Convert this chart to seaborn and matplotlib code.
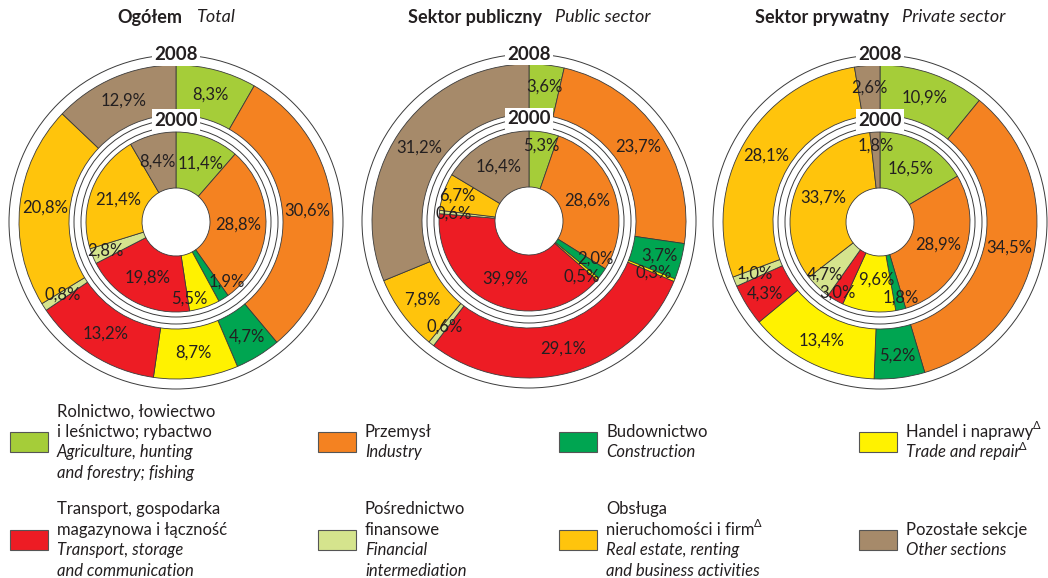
import matplotlib
matplotlib.use("Agg")
import numpy as np
import matplotlib.pyplot as plt
from matplotlib.patches import Circle, Rectangle
import seaborn as sns

# sections, clockwise from 12 o'clock
sections = ["agriculture", "industry", "construction", "trade",
            "transport", "financial", "real_estate", "other"]

total_2000 = [11.4, 28.8, 1.9, 5.5, 19.8, 2.8, 21.4, 8.4]
total_2008 = [8.3, 30.6, 4.7, 8.7, 13.2, 0.8, 20.8, 12.9]
public_2000 = [5.3, 28.6, 2.0, 0.5, 39.9, 0.6, 6.7, 16.4]
public_2008 = [3.6, 23.7, 3.7, 0.3, 29.1, 0.6, 7.8, 31.2]
private_2000 = [16.5, 28.9, 1.8, 9.6, 3.0, 4.7, 33.7, 1.8]
private_2008 = [10.9, 34.5, 5.2, 13.4, 4.3, 1.0, 28.1, 2.6]

titles_pl = ["Ogółem", "Sektor publiczny", "Sektor prywatny"]
titles_en = ["Total", "Public sector", "Private sector"]

# (text, has a delta superscript)
legend_pl = [[("Rolnictwo, łowiectwo", 0), ("i leśnictwo; rybactwo", 0)],
             [("Przemysł", 0)],
             [("Budownictwo", 0)],
             [("Handel i naprawy", 1)],
             [("Transport, gospodarka", 0), ("magazynowa i łączność", 0)],
             [("Pośrednictwo", 0), ("finansowe", 0)],
             [("Obsługa", 0), ("nieruchomości i firm", 1)],
             [("Pozostałe sekcje", 0)]]
legend_en = [[("Agriculture, hunting", 0), ("and forestry; fishing", 0)],
             [("Industry", 0)],
             [("Construction", 0)],
             [("Trade and repair", 1)],
             [("Transport, storage", 0), ("and communication", 0)],
             [("Financial", 0), ("intermediation", 0)],
             [("Real estate, renting", 0), ("and business activities", 0)],
             [("Other sections", 0)]]

colors = ["#A5CD39", "#F48221", "#00A551", "#FFF200",
          "#ED1C24", "#D5E48D", "#FFC40C", "#A68A6A"]

sns.set_theme(style="white")
plt.rcParams['font.family'] = ['Lato', 'DejaVu Sans']
TXT = "#231F20"
EDGE = "#3a3a3a"

W, H = 1048, 578
fig = plt.figure(figsize=(W / 100, H / 100), dpi=100)
fig.patch.set_facecolor("white")
renderer = fig.canvas.get_renderer()

# overlay axes in pixel coords for titles and legend
bg = fig.add_axes([0, 0, 1, 1])
bg.set_xlim(0, W)
bg.set_ylim(H, 0)
bg.axis("off")

centers = [(176, 222), (529, 221), (880, 222)]
data = [(total_2000, total_2008), (public_2000, public_2008),
        (private_2000, private_2008)]

S = 172
R_OUT, R08_IN = 157, 107
R_A, R_B = 102, 95
R00_OUT, R_HOLE = 90, 34
R_FRAME = 167


def fmt(v):
    return f"{v:.1f}%".replace(".", ",")


def ring(ax, values, r_out, r_in, r_small):
    wedges, _ = ax.pie(values, colors=colors, startangle=90, counterclock=False,
                       radius=r_out,
                       wedgeprops=dict(width=r_out - r_in, edgecolor=EDGE, linewidth=0.6))
    r_mid = (r_out + r_in) / 2
    texts, pos = [], []
    for w, v in zip(wedges, values):
        a = np.deg2rad((w.theta1 + w.theta2) / 2)
        # labels of thin slices sit further out, as in the original
        r = r_small if v < 7 else r_mid
        p = np.array([r * np.cos(a), r * np.sin(a)])
        texts.append(ax.text(p[0], p[1], fmt(v), ha="center", va="center",
                             fontsize=12, color=TXT))
        pos.append(p)
    # nudge apart labels whose boxes collide (axes units are pixels)
    size = [(t.get_window_extent(renderer).width + 1,
             t.get_window_extent(renderer).height + 1) for t in texts]
    for _ in range(400):
        moved = False
        for i in range(len(pos)):
            for j in range(i + 1, len(pos)):
                d = pos[i] - pos[j]
                if (abs(d[0]) < (size[i][0] + size[j][0]) / 2 and
                        abs(d[1]) < (size[i][1] + size[j][1]) / 2):
                    step = d / (np.linalg.norm(d) + 1e-9) * 0.5
                    pos[i] = pos[i] + step
                    pos[j] = pos[j] - step
                    moved = True
        if not moved:
            break
    for t, p in zip(texts, pos):
        t.set_position(p)


for (cx, cy), (v00, v08) in zip(centers, data):
    ax = fig.add_axes([(cx - S) / W, 1 - (cy + S) / H, 2 * S / W, 2 * S / H])
    ax.set_xlim(-S, S)
    ax.set_ylim(-S, S)
    ring(ax, v08, R_OUT, R08_IN, 135)
    ring(ax, v00, R00_OUT, R_HOLE, 76)
    for r in (R_FRAME, R_A, R_B):
        ax.add_patch(Circle((0, 0), r, fill=False, edgecolor=EDGE, linewidth=0.7))
    for r, year in ((R_FRAME, "2008"), (R_A, "2000")):
        ax.text(0, r, year, ha="center", va="center", fontsize=13.5,
                fontweight="bold", color=TXT,
                bbox=dict(facecolor="white", edgecolor="none", pad=1.5))
    ax.set_xlim(-S, S)
    ax.set_ylim(-S, S)
    ax.set_aspect("equal")
    ax.axis("off")

# titles: bold Polish + italic English, centred over each chart
for (cx, cy), pl, en in zip(centers, titles_pl, titles_en):
    t1 = bg.text(0, 17, pl, fontsize=13, fontweight="bold", color=TXT,
                 ha="left", va="center")
    t2 = bg.text(0, 17, en, fontsize=13, fontstyle="italic", color=TXT,
                 ha="left", va="center")
    w1 = t1.get_window_extent(renderer).width
    w2 = t2.get_window_extent(renderer).width
    gap = 13
    x0 = cx - (w1 + gap + w2) / 2
    t1.set_x(x0)
    t2.set_x(x0 + w1 + gap)

# legend: 2 rows x 4 columns
col_x = [10, 318, 559, 859]
row_y = [442, 540]
LINE = 20.5
for i, (pl, en) in enumerate(zip(legend_pl, legend_en)):
    x = col_x[i % 4]
    yc = row_y[i // 4]
    bg.add_patch(Rectangle((x, yc - 10), 38, 20, facecolor=colors[i],
                           edgecolor="#555555", linewidth=0.8))
    lines = [(s, d, "normal") for s, d in pl] + [(s, d, "italic") for s, d in en]
    y0 = yc - (len(lines) - 1) * LINE / 2
    for k, (s, delta, style) in enumerate(lines):
        t = bg.text(x + 47, y0 + k * LINE, s, fontsize=12, fontstyle=style,
                    color=TXT, ha="left", va="center")
        if delta:
            wt = t.get_window_extent(renderer).width
            bg.text(x + 47 + wt - 1, y0 + k * LINE - 6, "Δ", fontsize=8,
                    color=TXT, ha="left", va="center")

fig.savefig("out.png", dpi=100)
